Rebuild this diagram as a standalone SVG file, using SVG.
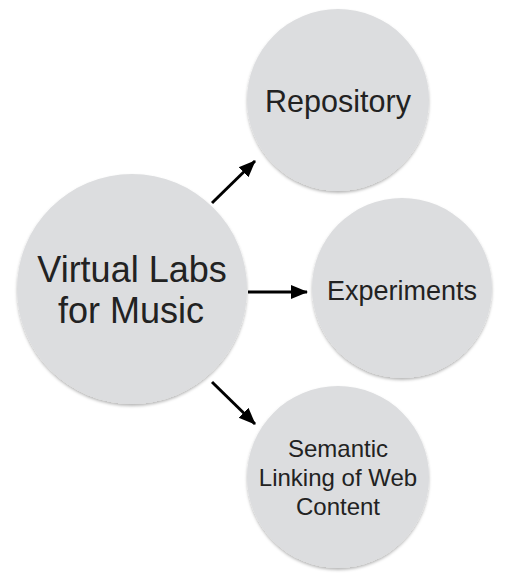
<svg xmlns="http://www.w3.org/2000/svg" width="522" height="585" viewBox="0 0 522 585">
<style>
.node{fill:#dcdddf;filter:url(#sh);}
.lbl{font-family:"Liberation Sans",Arial,sans-serif;fill:#222;text-anchor:middle;}
.conn{stroke:#000;stroke-width:3;fill:none;marker-end:url(#ah);}
</style>
<defs>
<filter id="sh" x="-20%" y="-20%" width="140%" height="140%">
<feDropShadow dx="0" dy="2" stdDeviation="1.5" flood-color="#000" flood-opacity="0.28"/>
</filter>
<marker id="ah" markerUnits="userSpaceOnUse" markerWidth="17" markerHeight="16" refX="16" refY="8" orient="auto">
<path d="M0,1 L17,8 L0,15 z" fill="#000"/>
</marker>
</defs>
<rect width="522" height="585" fill="#fff"/>
<g id="connectors">
<line class="conn" x1="212" y1="203" x2="255" y2="161"/>
<line class="conn" x1="248" y1="292" x2="307" y2="292"/>
<line class="conn" x1="212" y1="382" x2="255" y2="424"/>
</g>
<g id="node-virtual-labs">
<circle class="node" cx="132" cy="289" r="115"/>
<text class="lbl" x="132" y="282" font-size="36">Virtual Labs</text>
<text class="lbl" x="131" y="323" font-size="36">for Music</text>
</g>
<g id="node-repository">
<circle class="node" cx="338" cy="100" r="91"/>
<text class="lbl" x="338" y="112" font-size="30.5">Repository</text>
</g>
<g id="node-experiments">
<circle class="node" cx="402" cy="288" r="90"/>
<text class="lbl" x="402" y="300" font-size="27">Experiments</text>
</g>
<g id="node-semantic">
<circle class="node" cx="338" cy="477" r="91"/>
<text class="lbl" x="338" y="457" font-size="24">Semantic</text>
<text class="lbl" x="338" y="486" font-size="24">Linking of Web</text>
<text class="lbl" x="338" y="515" font-size="24">Content</text>
</g>
</svg>
